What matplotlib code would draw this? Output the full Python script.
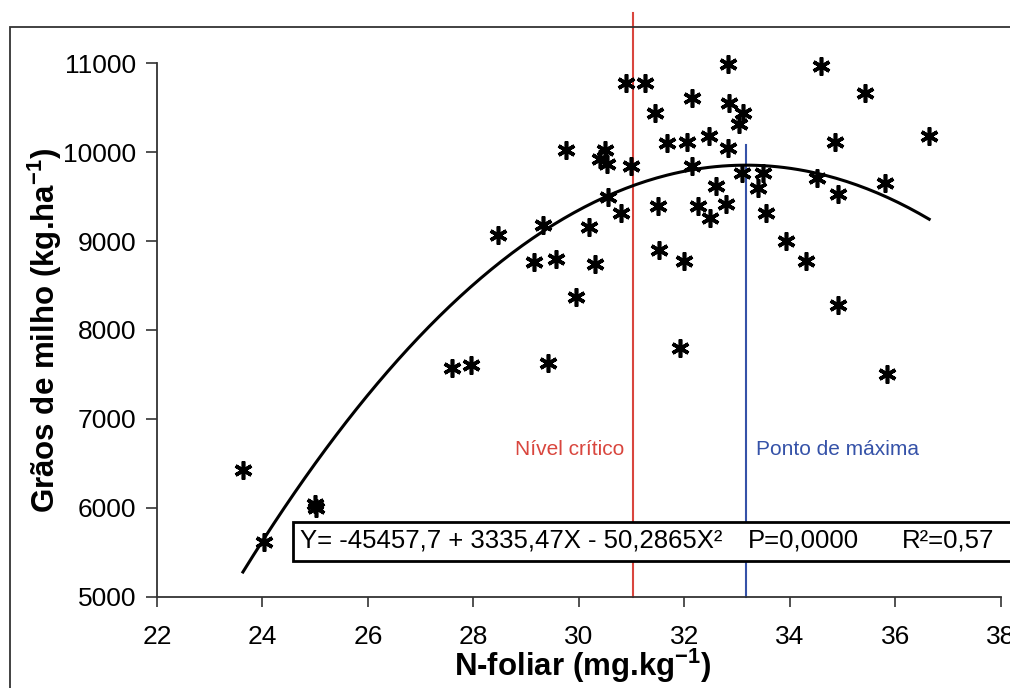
import matplotlib
matplotlib.use('Agg')
import matplotlib.pyplot as plt
from matplotlib.patches import Rectangle
import numpy as np

plt.rcParams['font.family'] = ['Liberation Sans', 'DejaVu Sans']
plt.rcParams['mathtext.fontset'] = 'custom'
plt.rcParams['mathtext.rm'] = 'Liberation Sans'
plt.rcParams['mathtext.bf'] = 'Liberation Sans:bold'

# N-foliar (mg/kg) vs grain yield (kg/ha)
n_foliar = [23.63, 24.03, 25.00, 25.02, 27.59, 27.95, 28.46, 29.15, 29.32, 29.56,
            29.41, 29.75, 29.94, 30.19, 30.30, 30.49, 30.40, 30.53, 30.99, 30.55,
            30.80, 30.89, 31.25, 31.44, 32.14, 31.67, 32.05, 32.46, 32.14, 31.50,
            32.26, 32.48, 32.60, 31.52, 32.00, 31.91, 32.82, 34.59, 35.42, 32.84,
            33.11, 33.03, 32.82, 34.85, 36.64, 33.09, 33.49, 33.39, 34.51, 34.91,
            35.80, 32.79, 33.55, 33.92, 34.30, 34.91, 35.84]
graos = [6430, 5620, 6050, 6000, 7570, 7610, 9070, 8760, 9180, 8800,
         7630, 10020, 8370, 9160, 8740, 10020, 9920, 9860, 9840, 9490,
         9320, 10775, 10775, 10440, 10610, 10100, 10110, 10180, 9840, 9390,
         9390, 9260, 9620, 8900, 8780, 7800, 10990, 10970, 10660, 10550,
         10440, 10320, 10045, 10110, 10180, 9760, 9760, 9600, 9710, 9530,
         9650, 9420, 9320, 9000, 8780, 8280, 7500]

# fitted quadratic
b0, b1, b2 = -45457.7, 3335.47, -50.2865
nivel_critico = 31.02
ponto_maxima = -b1 / (2 * b2)

xticks = [22, 24, 26, 28, 30, 32, 34, 36, 38]
yticks = [5000, 6000, 7000, 8000, 9000, 10000, 11000]

fig = plt.figure(figsize=(10.1, 6.88), dpi=100)
ax = fig.add_axes([0.1554, 0.1323, 0.8356, 0.7761])

# outer frame (cropped in the original)
fig.patches.append(Rectangle((0.0099, -0.2), 1.3, 1.1608, transform=fig.transFigure,
                             fill=False, edgecolor='#333333', linewidth=1.3))

xs = np.linspace(min(n_foliar), max(n_foliar), 200)
ax.plot(xs, b0 + b1 * xs + b2 * xs ** 2, color='black', linewidth=2.2, zorder=3)

ax.plot(n_foliar, graos, linestyle='none', marker=(6, 2, 0), markersize=13,
        markeredgewidth=2.6, color='black', zorder=4, clip_on=False)

ax.plot([nivel_critico, nivel_critico], [5000, 11560], color='#d9463e',
        linewidth=1.5, clip_on=False, zorder=2)
ax.plot([ponto_maxima, ponto_maxima], [5000, 10080], color='#3552a8',
        linewidth=1.5, clip_on=False, zorder=2)
ax.text(30.85, 6600, 'Nível crítico', color='#d9463e', fontsize=15,
        ha='right', va='baseline')
ax.text(33.35, 6600, 'Ponto de máxima', color='#3552a8', fontsize=15,
        ha='left', va='baseline')

# equation box
ax.add_patch(Rectangle((24.58, 5404), 14.5, 440, fill=True, facecolor='white',
                       edgecolor='black', linewidth=2, clip_on=False, zorder=5))
ax.text(24.72, 5640, 'Y= -45457,7 + 3335,47X - 50,2865X²', fontsize=18.5,
        va='center', ha='left', zorder=6)
ax.text(33.20, 5640, 'P=0,0000', fontsize=18.5, va='center', ha='left', zorder=6)
ax.text(36.12, 5640, 'R²=0,57', fontsize=18.5, va='center', ha='left', zorder=6)

ax.set_xlim(22, 38)
ax.set_ylim(5000, 11000)
ax.set_xticks(xticks)
ax.set_yticks(yticks)
ax.tick_params(axis='both', labelsize=19, direction='out', width=1.2, color='#333333')
ax.tick_params(axis='x', length=7, pad=13)
ax.tick_params(axis='y', length=8, pad=7)
for s in ['top', 'right']:
    ax.spines[s].set_visible(False)
for s in ['left', 'bottom']:
    ax.spines[s].set_linewidth(1.3)
    ax.spines[s].set_color('#333333')

fig.text(0.577, 0.0174, r'N-foliar (mg.kg$^{\mathbf{-1}}$)', fontsize=22.5,
         fontweight='bold', ha='center', va='baseline')
fig.text(0.044, 0.52, r'Grãos de milho (kg.ha$^{\mathbf{-1}}$)', fontsize=22.5,
         fontweight='bold', ha='center', va='center', rotation=90)

fig.savefig('out.png', dpi=100)
